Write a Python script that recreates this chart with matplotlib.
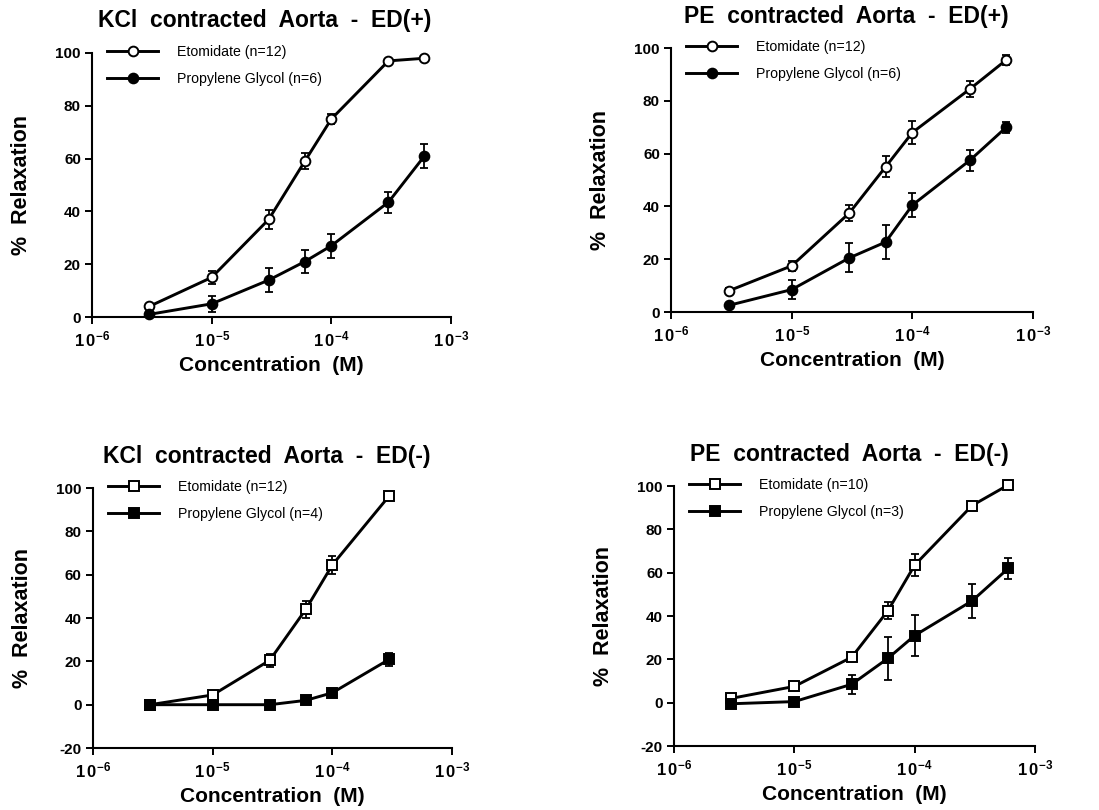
import matplotlib
matplotlib.use("Agg")

import numpy as np
import matplotlib.pyplot as plt

plt.rcParams["font.family"] = ["Liberation Sans", "DejaVu Sans"]
plt.rcParams["mathtext.fontset"] = "custom"
plt.rcParams["mathtext.rm"] = "Liberation Sans"
plt.rcParams["mathtext.bf"] = "Liberation Sans:bold"

# ── data ──────────────────────────────────────────────────────────────────────
conc = [3e-6, 1e-5, 3e-5, 6e-5, 1e-4, 3e-4, 6e-4]
conc_short = [3e-6, 1e-5, 3e-5, 6e-5, 1e-4, 3e-4]

kcl_edp_eto     = [4, 15, 37, 59, 75, 97, 98]
kcl_edp_eto_err = [1, 2.5, 3.5, 3, 2, 0.8, 0.8]
kcl_edp_pg      = [1, 5, 14, 21, 27, 43.5, 61]
kcl_edp_pg_err  = [0.8, 3, 4.5, 4.5, 4.5, 4, 4.5]

pe_edp_eto      = [8, 17.5, 37.5, 55, 68, 84.5, 95.5]
pe_edp_eto_err  = [1, 2, 3, 4, 4.5, 3, 2]
pe_edp_pg       = [2.5, 8.5, 20.5, 26.5, 40.5, 57.5, 70]
pe_edp_pg_err   = [0.8, 3.5, 5.5, 6.5, 4.5, 4, 2]

kcl_edm_eto     = [0, 4.5, 20.5, 44, 64.5, 96.5]
kcl_edm_eto_err = [0.5, 1, 3, 4, 4, 0.8]
kcl_edm_pg      = [0, 0, 0, 2, 5.5, 21]
kcl_edm_pg_err  = [0.5, 0.5, 0.5, 1, 1.5, 3]

pe_edm_eto      = [2, 7.5, 21, 42.5, 63.5, 91, 100.5]
pe_edm_eto_err  = [0.5, 0.8, 1, 4, 5, 1, 0.8]
pe_edm_pg       = [-0.5, 0.5, 8.5, 20.5, 31, 47, 62]
pe_edm_pg_err   = [0.5, 0.5, 4.5, 10, 9.5, 8, 5]

panels = [
    dict(title="KCl  contracted  Aorta  -  ED(+)", x=conc,
         eto=kcl_edp_eto, eto_err=kcl_edp_eto_err, pg=kcl_edp_pg, pg_err=kcl_edp_pg_err,
         eto_lab="Etomidate (n=12)", pg_lab="Propylene Glycol (n=6)", marker="o",
         ylim=(0, 100), yticks=[0, 20, 40, 60, 80, 100],
         rect=[0.0837, 0.6086, 0.3267, 0.3260], title_dx=-0.02),
    dict(title="PE  contracted  Aorta  -  ED(+)", x=conc,
         eto=pe_edp_eto, eto_err=pe_edp_eto_err, pg=pe_edp_pg, pg_err=pe_edp_pg_err,
         eto_lab="Etomidate (n=12)", pg_lab="Propylene Glycol (n=6)", marker="o",
         ylim=(0, 100), yticks=[0, 20, 40, 60, 80, 100],
         rect=[0.6106, 0.6148, 0.3294, 0.3259], title_dx=-0.015),
    dict(title="KCl  contracted  Aorta  -  ED(-)", x=conc_short,
         eto=kcl_edm_eto, eto_err=kcl_edm_eto_err, pg=kcl_edm_pg, pg_err=kcl_edm_pg_err,
         eto_lab="Etomidate (n=12)", pg_lab="Propylene Glycol (n=4)", marker="s",
         ylim=(-20, 100), yticks=[-20, 0, 20, 40, 60, 80, 100],
         rect=[0.0846, 0.0765, 0.3267, 0.3210], title_dx=-0.015),
    dict(title="PE  contracted  Aorta  -  ED(-)", x=conc,
         eto=pe_edm_eto, eto_err=pe_edm_eto_err, pg=pe_edm_pg, pg_err=pe_edm_pg_err,
         eto_lab="Etomidate (n=10)", pg_lab="Propylene Glycol (n=3)", marker="s",
         ylim=(-20, 100), yticks=[-20, 0, 20, 40, 60, 80, 100],
         rect=[0.6133, 0.0790, 0.3285, 0.3210], title_dx=-0.015),
]

xticks = [1e-6, 1e-5, 1e-4, 1e-3]
xticklabels = [r"$\mathbf{1\,0^{-6}}$", r"$\mathbf{1\,0^{-5}}$",
               r"$\mathbf{1\,0^{-4}}$", r"$\mathbf{1\,0^{-3}}$"]

fig = plt.figure(figsize=(10.99, 8.10), dpi=100, facecolor="white")

for p in panels:
    ax = fig.add_axes(p["rect"])
    ax.set_xscale("log")
    ax.set_xlim(1e-6, 1e-3)
    ax.set_ylim(*p["ylim"])
    h_px = p["rect"][3] * 810

    ms = 7 if p["marker"] == "o" else 7.5
    for y, err, fill, lab in [(p["eto"], p["eto_err"], "white", p["eto_lab"]),
                              (p["pg"], p["pg_err"], "black", p["pg_lab"])]:
        ax.errorbar(p["x"], y, yerr=err, fmt="none", ecolor="black",
                    elinewidth=1.3, capsize=2.8, capthick=1.3, zorder=3, clip_on=False)
        ax.plot(p["x"], y, "-", marker=p["marker"], color="black", lw=2.1,
                ms=ms, mfc=fill, mec="black", mew=1.4, label=lab,
                zorder=4, clip_on=False)

    for side in ["top", "right"]:
        ax.spines[side].set_visible(False)
    for side in ["left", "bottom"]:
        ax.spines[side].set_linewidth(1.5)

    ax.set_xticks(xticks)
    ax.set_xticklabels(xticklabels, fontsize=12)
    ax.xaxis.set_minor_locator(matplotlib.ticker.NullLocator())
    ax.set_yticks(p["yticks"])
    ax.set_yticklabels([str(v) for v in p["yticks"]], fontsize=11, fontweight="bold")
    ax.tick_params(direction="out", length=5, width=1.4, pad=3)
    ax.tick_params(axis="x", pad=4)

    ax.set_xlabel("Concentration  (M)", fontsize=15, fontweight="bold", labelpad=5)
    ax.set_ylabel("%  Relaxation", fontsize=15.5, fontweight="bold", labelpad=17)

    ax.text(0.5 + p["title_dx"], 1 + 32 / h_px, p["title"], transform=ax.transAxes,
            ha="center", va="center", fontsize=16.5, fontweight="bold")

    ax.legend(loc="upper left", bbox_to_anchor=(0.042, 1 + 8 / h_px), frameon=False,
              fontsize=10.2, handlelength=3.6, handletextpad=1.34,
              labelspacing=0.93, borderaxespad=0, borderpad=0)

fig.savefig("out.png", dpi=100, facecolor="white")
